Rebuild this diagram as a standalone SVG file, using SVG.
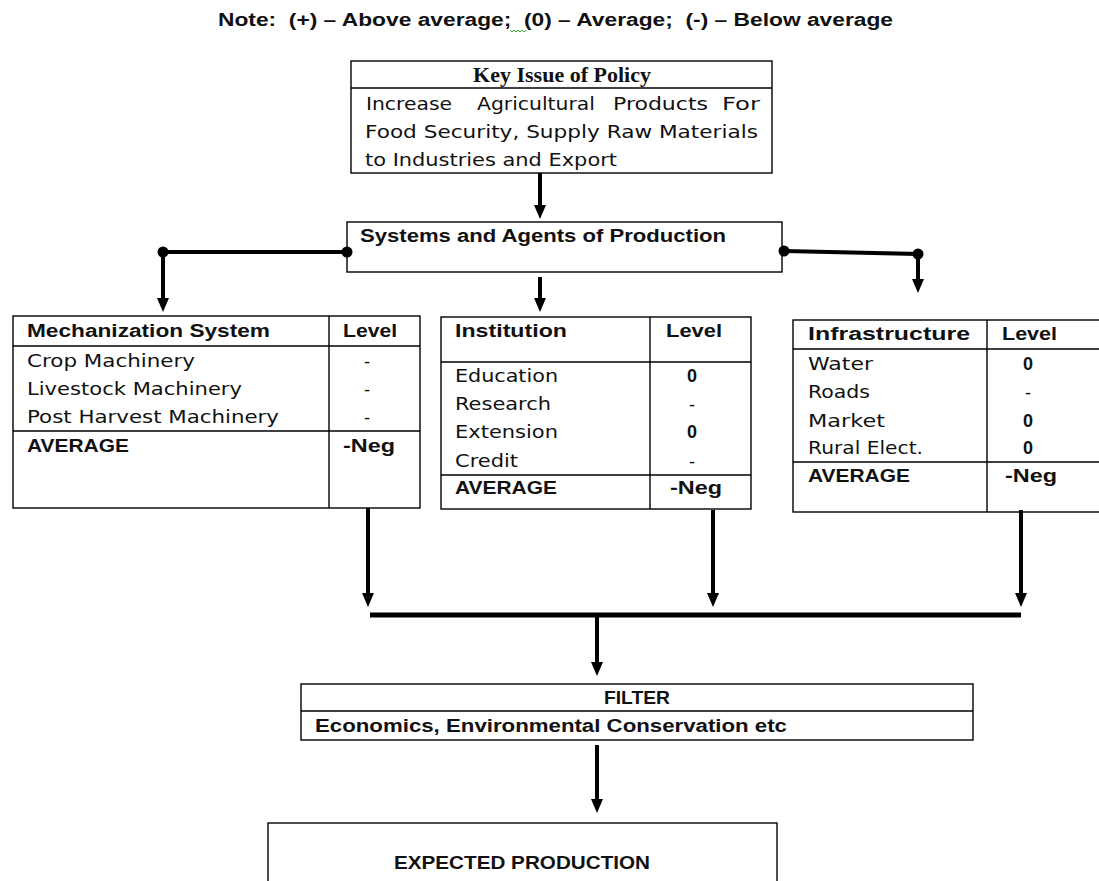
<svg xmlns="http://www.w3.org/2000/svg" width="1099" height="881" viewBox="0 0 1099 881">
  <style>
    .box { fill: #fff; stroke: #000; stroke-width: 1.4; }
    .rule { stroke: #000; stroke-width: 1.4; fill: none; }
    .conn { stroke: #000; stroke-width: 4; fill: none; }
    .hd { font-family: "Liberation Sans", Arial, sans-serif; font-weight: bold; font-size: 18px; fill: #111; }
    .bd { font-family: "DejaVu Sans", Verdana, sans-serif; font-size: 17px; fill: #111; }
    .ser { font-family: "Liberation Serif", "Times New Roman", serif; font-weight: bold; font-size: 22px; fill: #111; }
    .val { font-family: "DejaVu Sans", Verdana, sans-serif; font-size: 17px; fill: #111; text-anchor: middle; }
    .valb { font-family: "Liberation Sans", Arial, sans-serif; font-weight: bold; font-size: 18px; fill: #111; text-anchor: middle; }
  </style>
  <defs>
    <marker id="head" viewBox="0 0 14 12" refX="3" refY="6" markerWidth="14" markerHeight="12" markerUnits="userSpaceOnUse" orient="auto">
      <path d="M0,0 L14,6 L0,12 z" fill="#000"/>
    </marker>
  </defs>
  <rect width="1099" height="881" fill="#fff"/>

  <!-- legend line -->
  <g id="note">
    <text class="hd" x="218" y="26" textLength="675" lengthAdjust="spacingAndGlyphs" style="white-space:pre">Note:  (+) – Above average;  (0) – Average;  (-) – Below average</text>
    <path d="M510,30 l2,2 l2,-2 l2,2 l2,-2 l2,2 l2,-2 l2,2 l2,-2" stroke="#3a3" stroke-width="1" fill="none"/>
  </g>

  <!-- policy statement -->
  <g id="key-issue">
    <rect class="box" x="351" y="61" width="421" height="112"/>
    <line class="rule" x1="351" y1="88" x2="772" y2="88"/>
    <text class="ser" x="562" y="82" text-anchor="middle">Key Issue of Policy</text>
    <!-- justified first line: words placed one by one -->
    <text class="bd" y="110">
      <tspan x="366" textLength="86" lengthAdjust="spacingAndGlyphs">Increase</tspan>
      <tspan x="477" textLength="118" lengthAdjust="spacingAndGlyphs">Agricultural</tspan>
      <tspan x="613" textLength="95" lengthAdjust="spacingAndGlyphs">Products</tspan>
      <tspan x="722" textLength="38" lengthAdjust="spacingAndGlyphs">For</tspan>
    </text>
    <text class="bd" x="365" y="138" textLength="393" lengthAdjust="spacingAndGlyphs">Food Security, Supply Raw Materials</text>
    <text class="bd" x="365" y="166" textLength="252" lengthAdjust="spacingAndGlyphs">to Industries and Export</text>
  </g>

  <g id="systems">
    <rect class="box" x="347" y="222" width="435" height="50"/>
    <text class="hd" x="360" y="242" textLength="366" lengthAdjust="spacingAndGlyphs">Systems and Agents of Production</text>
  </g>

  <g id="mechanization">
    <rect class="box" x="13" y="316" width="407" height="192"/>
    <line class="rule" x1="329" y1="316" x2="329" y2="508"/>
    <line class="rule" x1="13" y1="346" x2="420" y2="346"/>
    <line class="rule" x1="13" y1="431" x2="420" y2="431"/>
    <text class="hd" x="27" y="337" textLength="243" lengthAdjust="spacingAndGlyphs">Mechanization System</text>
    <text class="hd" x="343" y="337" textLength="54" lengthAdjust="spacingAndGlyphs">Level</text>
    <text class="bd" x="27" y="367" textLength="168" lengthAdjust="spacingAndGlyphs">Crop Machinery</text>
    <text class="bd" x="27" y="395" textLength="215" lengthAdjust="spacingAndGlyphs">Livestock Machinery</text>
    <text class="bd" x="27" y="423" textLength="252" lengthAdjust="spacingAndGlyphs">Post Harvest Machinery</text>
    <text class="val" x="367" y="367">-</text>
    <text class="val" x="367" y="395">-</text>
    <text class="val" x="367" y="423">-</text>
    <text class="hd" x="27" y="452" textLength="102" lengthAdjust="spacingAndGlyphs">AVERAGE</text>
    <text class="hd" x="343" y="452" textLength="52" lengthAdjust="spacingAndGlyphs">-Neg</text>
  </g>

  <g id="institution">
    <rect class="box" x="441" y="317" width="310" height="192"/>
    <line class="rule" x1="650" y1="317" x2="650" y2="509"/>
    <line class="rule" x1="441" y1="362" x2="751" y2="362"/>
    <line class="rule" x1="441" y1="475" x2="751" y2="475"/>
    <text class="hd" x="455" y="337" textLength="112" lengthAdjust="spacingAndGlyphs">Institution</text>
    <text class="hd" x="666" y="337" textLength="56" lengthAdjust="spacingAndGlyphs">Level</text>
    <text class="bd" x="455" y="382" textLength="103" lengthAdjust="spacingAndGlyphs">Education</text>
    <text class="bd" x="455" y="410" textLength="96" lengthAdjust="spacingAndGlyphs">Research</text>
    <text class="bd" x="455" y="438" textLength="103" lengthAdjust="spacingAndGlyphs">Extension</text>
    <text class="bd" x="455" y="467" textLength="63" lengthAdjust="spacingAndGlyphs">Credit</text>
    <text class="valb" x="692" y="382">0</text>
    <text class="val" x="692" y="410">-</text>
    <text class="valb" x="692" y="438">0</text>
    <text class="val" x="692" y="467">-</text>
    <text class="hd" x="455" y="494" textLength="102" lengthAdjust="spacingAndGlyphs">AVERAGE</text>
    <text class="hd" x="670" y="494" textLength="52" lengthAdjust="spacingAndGlyphs">-Neg</text>
  </g>

  <g id="infrastructure">
    <rect class="box" x="793" y="320" width="312" height="192"/>
    <line class="rule" x1="987" y1="320" x2="987" y2="512"/>
    <line class="rule" x1="793" y1="349" x2="1105" y2="349"/>
    <line class="rule" x1="793" y1="462" x2="1105" y2="462"/>
    <text class="hd" x="808" y="340" textLength="162" lengthAdjust="spacingAndGlyphs">Infrastructure</text>
    <text class="hd" x="1002" y="340" textLength="55" lengthAdjust="spacingAndGlyphs">Level</text>
    <text class="bd" x="808" y="370" textLength="65" lengthAdjust="spacingAndGlyphs">Water</text>
    <text class="bd" x="808" y="398" textLength="62" lengthAdjust="spacingAndGlyphs">Roads</text>
    <text class="bd" x="808" y="427" textLength="77" lengthAdjust="spacingAndGlyphs">Market</text>
    <text class="bd" x="808" y="454" textLength="115" lengthAdjust="spacingAndGlyphs">Rural Elect.</text>
    <text class="valb" x="1028" y="370">0</text>
    <text class="val" x="1028" y="398">-</text>
    <text class="valb" x="1028" y="427">0</text>
    <text class="valb" x="1028" y="454">0</text>
    <text class="hd" x="808" y="482" textLength="102" lengthAdjust="spacingAndGlyphs">AVERAGE</text>
    <text class="hd" x="1005" y="482" textLength="52" lengthAdjust="spacingAndGlyphs">-Neg</text>
  </g>

  <g id="filter">
    <rect class="box" x="301" y="684" width="672" height="56"/>
    <line class="rule" x1="301" y1="711" x2="973" y2="711"/>
    <text class="hd" x="637" y="704" text-anchor="middle" textLength="66" lengthAdjust="spacingAndGlyphs">FILTER</text>
    <text class="hd" x="315" y="732" textLength="472" lengthAdjust="spacingAndGlyphs">Economics, Environmental Conservation etc</text>
  </g>

  <g id="expected-production">
    <rect class="box" x="268" y="823" width="509" height="80"/>
    <text class="hd" x="522" y="869" text-anchor="middle" textLength="256" lengthAdjust="spacingAndGlyphs">EXPECTED PRODUCTION</text>
  </g>

  <g id="connectors">
    <line class="conn" x1="540" y1="173" x2="540" y2="208" marker-end="url(#head)"/>
    <path class="conn" d="M347,252 H163 V301" marker-end="url(#head)"/>
    <circle cx="347" cy="252" r="5.5"/>
    <circle cx="163" cy="252" r="5.5"/>
    <line class="conn" x1="540" y1="277" x2="540" y2="301" marker-end="url(#head)"/>
    <path class="conn" d="M784,251 L918,254 V282" marker-end="url(#head)"/>
    <circle cx="784" cy="251" r="5.5"/>
    <circle cx="918" cy="254" r="5.5"/>
    <line class="conn" x1="368" y1="508" x2="368" y2="596" marker-end="url(#head)"/>
    <line class="conn" x1="713" y1="510" x2="713" y2="596" marker-end="url(#head)"/>
    <line class="conn" x1="1021" y1="510" x2="1021" y2="596" marker-end="url(#head)"/>
    <line x1="370" y1="615" x2="1021" y2="615" stroke="#000" stroke-width="5"/>
    <line class="conn" x1="597" y1="617" x2="597" y2="665" marker-end="url(#head)"/>
    <line class="conn" x1="597" y1="745" x2="597" y2="802" marker-end="url(#head)"/>
  </g>
</svg>
